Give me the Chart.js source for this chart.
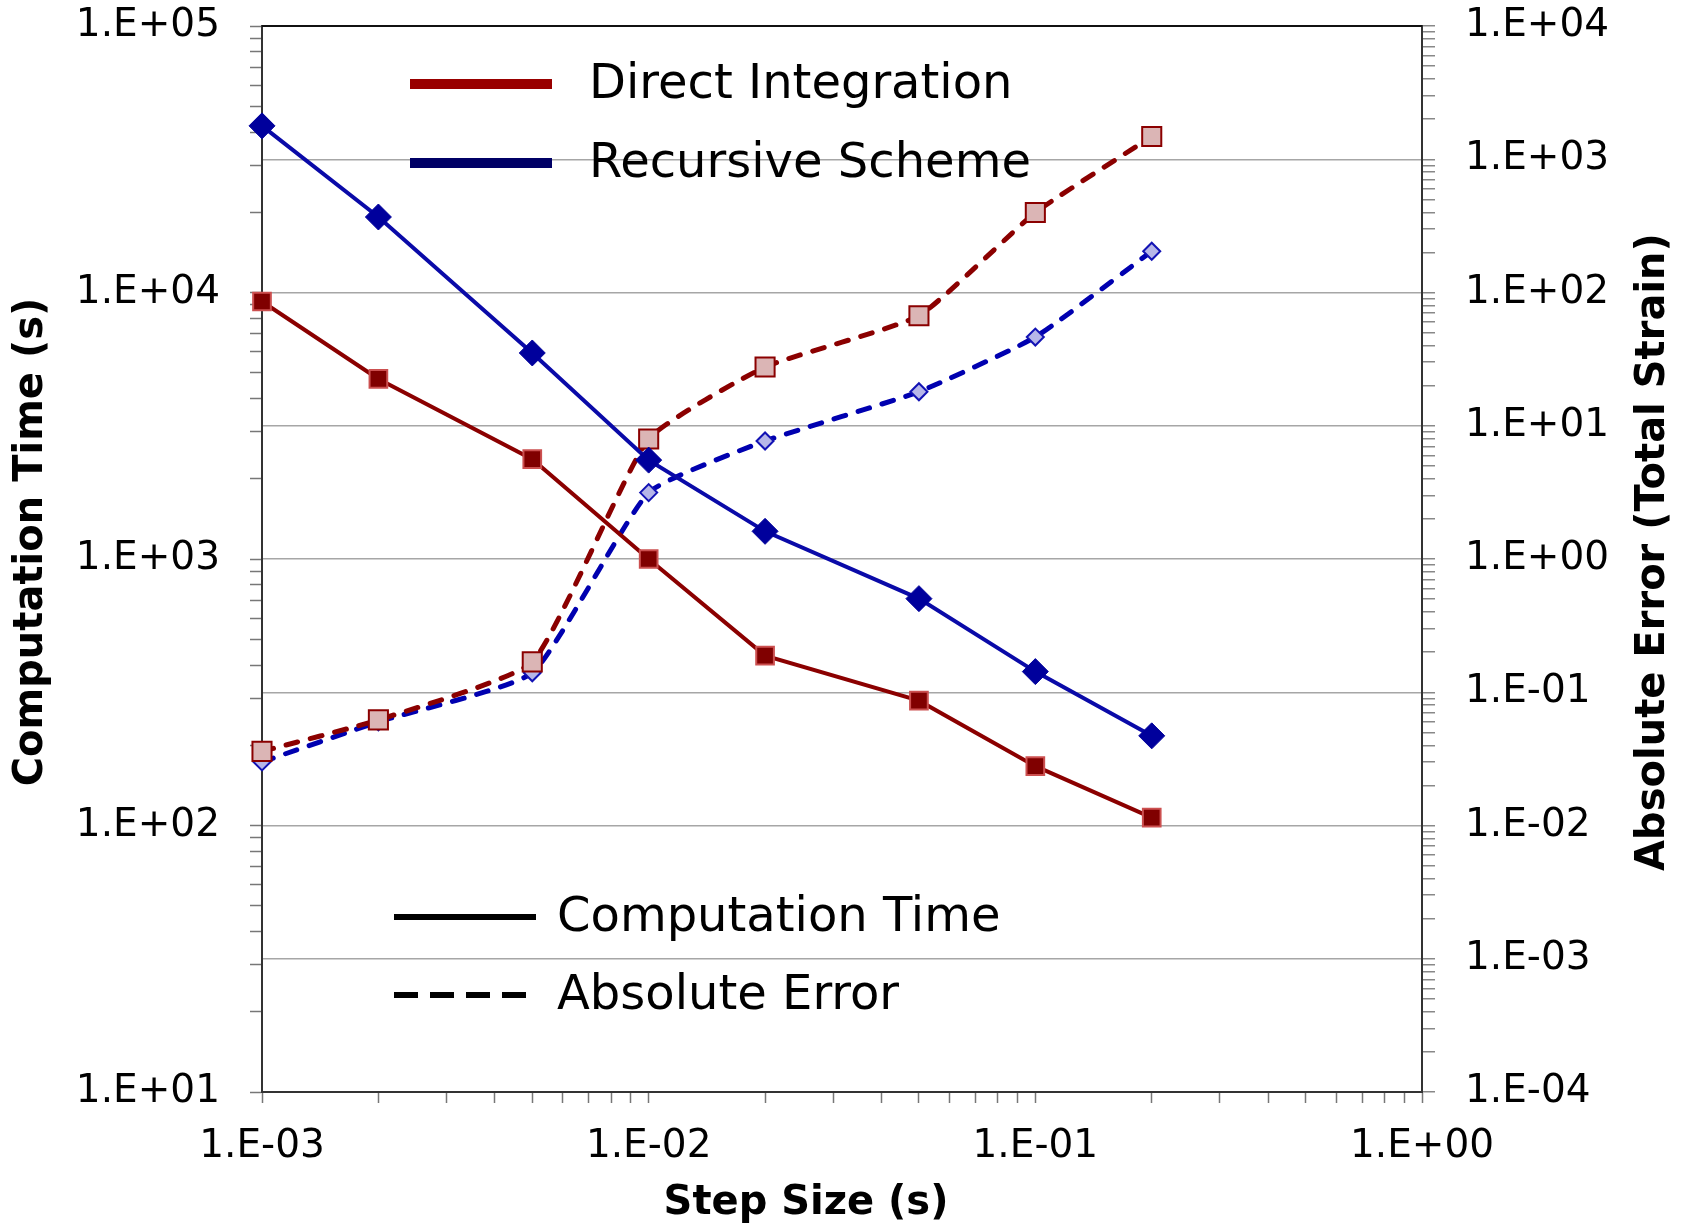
<!DOCTYPE html>
<html>
<head>
<meta charset="utf-8">
<script src="https://cdn.jsdelivr.net/npm/chart.js@4/dist/chart.umd.min.js"></script>
<style>
  html, body { margin: 0; padding: 0; background: #fff; }
  #wrap { width: 1682px; height: 1227px; }
</style>
</head>
<body>
<div id="wrap"><canvas id="stepChart"></canvas></div>
<script>
// step sizes (s)
const stepSizes = [0.001, 0.002, 0.005, 0.01, 0.02, 0.05, 0.1, 0.2];

// computation time (s), left axis
const timeDirect = [9250, 4740, 2370, 1000, 434, 294, 167, 107];
const timeRecursive = [42200, 19200, 5930, 2350, 1270, 710, 378, 217];

// absolute error (total strain), right axis
const errorDirect = [0.036, 0.062, 0.169, 7.96, 27.6, 67, 398, 1480];
const errorRecursive = [0.030, 0.060, 0.140, 3.15, 7.68, 18.0, 46.3, 204];

// tick decades + labels
const xDecades = [0.001, 0.01, 0.1, 1];
const xLabels = ['1.E-03', '1.E-02', '1.E-01', '1.E+00'];
const timeDecades = [10, 100, 1000, 10000, 100000];
const timeLabels = ['1.E+01', '1.E+02', '1.E+03', '1.E+04', '1.E+05'];
const errorDecades = [1e-4, 1e-3, 1e-2, 1e-1, 1, 10, 100, 1000, 10000];
const errorLabels = ['1.E-04', '1.E-03', '1.E-02', '1.E-01', '1.E+00', '1.E+01', '1.E+02', '1.E+03', '1.E+04'];

const seriesNames = ['Direct Integration', 'Recursive Scheme'];
const seriesColors = ['#990000', '#000066'];
const styleNames = ['Computation Time', 'Absolute Error'];
const axisTitles = { x: 'Step Size (s)', left: 'Computation Time (s)', right: 'Absolute Error (Total Strain)' };

const FONT = '"DejaVu Sans", Verdana, sans-serif';
Chart.defaults.font.family = FONT;
Chart.defaults.color = '#000';

// major decades plus 2..9 minor ticks
function logTicks(decades) {
  const out = [];
  decades.forEach((d, i) => {
    out.push({ value: d, major: true });
    if (i < decades.length - 1) {
      for (let k = 2; k <= 9; k++) out.push({ value: k * d, major: false });
    }
  });
  return out;
}

function labelFor(decades, labels) {
  return (value, index, ticks) => {
    if (!ticks[index].major) return '';
    const i = decades.findIndex(d => Math.abs(d - value) / d < 1e-6);
    return i >= 0 ? labels[i] : '';
  };
}

// fixed box size, no extra overhang padding from the end labels
function fixWidth(w) {
  return (s) => { s.width = w; s.paddingTop = 0; s.paddingBottom = 0; };
}

const pts = (ys) => stepSizes.map((x, i) => ({ x: x, y: ys[i] }));

const frame = {
  id: 'frame',
  beforeDatasetsDraw(chart) {
    const { ctx, chartArea: a } = chart;
    ctx.save();
    ctx.strokeStyle = '#111';
    ctx.lineWidth = 2;
    ctx.beginPath();
    ctx.moveTo(a.left, a.top);
    ctx.lineTo(a.right, a.top);
    ctx.stroke();
    ctx.restore();
  }
};

// axis titles drawn by hand so the right one reads bottom-to-top like the original
const titles = {
  id: 'titles',
  afterDraw(chart) {
    const { ctx, chartArea: a, width } = chart;
    const midY = (a.top + a.bottom) / 2;
    ctx.save();
    ctx.font = 'bold 40px ' + FONT;
    ctx.fillStyle = '#000';
    ctx.textAlign = 'center';
    ctx.textBaseline = 'middle';

    ctx.fillText(axisTitles.x, (a.left + a.right) / 2 - 36, a.bottom + 112);

    ctx.save();
    ctx.translate(32, midY - 17);
    ctx.rotate(-Math.PI / 2);
    ctx.fillText(axisTitles.left, 0, 0);
    ctx.restore();

    ctx.save();
    ctx.translate(width - 28, midY - 7);
    ctx.rotate(-Math.PI / 2);
    ctx.fillText(axisTitles.right, 0, 0);
    ctx.restore();

    ctx.restore();
  }
};

const insetLegends = {
  id: 'insetLegends',
  afterDraw(chart) {
    const { ctx, chartArea: a } = chart;
    ctx.save();
    ctx.font = '48px ' + FONT;
    ctx.textBaseline = 'middle';
    ctx.textAlign = 'left';
    ctx.fillStyle = '#000';
    ctx.lineCap = 'butt';

    // series legend (top)
    seriesNames.forEach((name, i) => {
      const y = a.top + 58 + i * 79;
      ctx.strokeStyle = seriesColors[i];
      ctx.lineWidth = 10;
      ctx.beginPath();
      ctx.moveTo(a.left + 148, y);
      ctx.lineTo(a.left + 290, y);
      ctx.stroke();
      ctx.fillText(name, a.left + 327, y + 2);
    });

    // line-style legend (bottom)
    styleNames.forEach((name, i) => {
      const y = a.top + 891 + i * 78;
      ctx.strokeStyle = '#000';
      ctx.lineWidth = 6;
      ctx.setLineDash(i === 0 ? [] : [24, 12]);
      ctx.beginPath();
      ctx.moveTo(a.left + 132, y);
      ctx.lineTo(a.left + 274, y);
      ctx.stroke();
      ctx.setLineDash([]);
      ctx.fillText(name, a.left + 295, y + 2);
    });
    ctx.restore();
  }
};

new Chart(document.getElementById('stepChart'), {
  type: 'line',
  data: {
    datasets: [
      {
        label: 'Direct Integration - Computation Time',
        data: pts(timeDirect),
        yAxisID: 'yTime',
        clip: false,
        borderColor: '#8b0000',
        borderWidth: 4,
        pointStyle: 'rect',
        pointRadius: 12.5,
        pointBackgroundColor: '#800000',
        pointBorderColor: '#cc5050',
        pointBorderWidth: 2,
        tension: 0
      },
      {
        label: 'Recursive Scheme - Computation Time',
        data: pts(timeRecursive),
        yAxisID: 'yTime',
        clip: false,
        borderColor: '#0a0aa8',
        borderWidth: 4,
        pointStyle: 'rectRot',
        pointRadius: 13,
        pointBackgroundColor: '#00009c',
        pointBorderColor: '#00009c',
        pointBorderWidth: 1,
        tension: 0
      },
      {
        label: 'Direct Integration - Absolute Error',
        data: pts(errorDirect),
        yAxisID: 'yErr',
        clip: false,
        borderColor: '#8b0000',
        borderWidth: 5,
        borderDash: [12, 13],
        borderCapStyle: 'round',
        pointStyle: 'rect',
        pointRadius: 13.5,
        pointBackgroundColor: '#dbb5b5',
        pointBorderColor: '#8b0000',
        pointBorderWidth: 2,
        tension: 0.15
      },
      {
        label: 'Recursive Scheme - Absolute Error',
        data: pts(errorRecursive),
        yAxisID: 'yErr',
        clip: false,
        borderColor: '#0000b0',
        borderWidth: 5,
        borderDash: [12, 13],
        borderCapStyle: 'round',
        pointStyle: 'rectRot',
        pointRadius: 8.5,
        pointBackgroundColor: '#b6b6e8',
        pointBorderColor: '#1212b4',
        pointBorderWidth: 2,
        tension: 0.15
      }
    ]
  },
  options: {
    responsive: true,
    maintainAspectRatio: false,
    animation: false,
    devicePixelRatio: 1,
    layout: { padding: { top: 26, left: 0, right: 0, bottom: 0 } },
    plugins: {
      legend: { display: false },
      tooltip: { enabled: false }
    },
    scales: {
      x: {
        type: 'logarithmic',
        position: 'bottom',
        min: 0.001,
        max: 1,
        afterBuildTicks: (s) => { s.ticks = logTicks(xDecades); },
        afterFit: (s) => { s.height = 135; s.paddingLeft = 0; s.paddingRight = 0; },
        ticks: {
          autoSkip: false,
          maxRotation: 0,
          minRotation: 0,
          padding: 20,
          font: { size: 39 },
          callback: labelFor(xDecades, xLabels)
        },
        grid: { drawOnChartArea: false, tickLength: 11, tickColor: '#777', tickWidth: 1.5 },
        border: { color: '#333', width: 2 }
      },
      yTime: {
        type: 'logarithmic',
        position: 'left',
        min: 10,
        max: 100000,
        afterBuildTicks: (s) => { s.ticks = logTicks(timeDecades); },
        afterFit: fixWidth(262),
        ticks: {
          autoSkip: false,
          padding: 30,
          font: { size: 39 },
          callback: labelFor(timeDecades, timeLabels)
        },
        grid: { drawOnChartArea: false, tickLength: 12, tickColor: '#777', tickWidth: 1.5 },
        border: { color: '#333', width: 2 }
      },
      yErr: {
        type: 'logarithmic',
        position: 'right',
        min: 0.0001,
        max: 10000,
        afterBuildTicks: (s) => { s.ticks = logTicks(errorDecades); },
        afterFit: fixWidth(260),
        ticks: {
          autoSkip: false,
          padding: 30,
          font: { size: 39 },
          callback: labelFor(errorDecades, errorLabels)
        },
        grid: {
          drawOnChartArea: true,
          color: (c) => (c.tick && c.tick.major ? '#a6a6a6' : 'rgba(0,0,0,0)'),
          lineWidth: 1.5,
          tickLength: 13,
          tickColor: '#888',
          tickWidth: 1.5
        },
        border: { color: '#333', width: 2 }
      }
    }
  },
  plugins: [frame, titles, insetLegends]
});
</script>
</body>
</html>
